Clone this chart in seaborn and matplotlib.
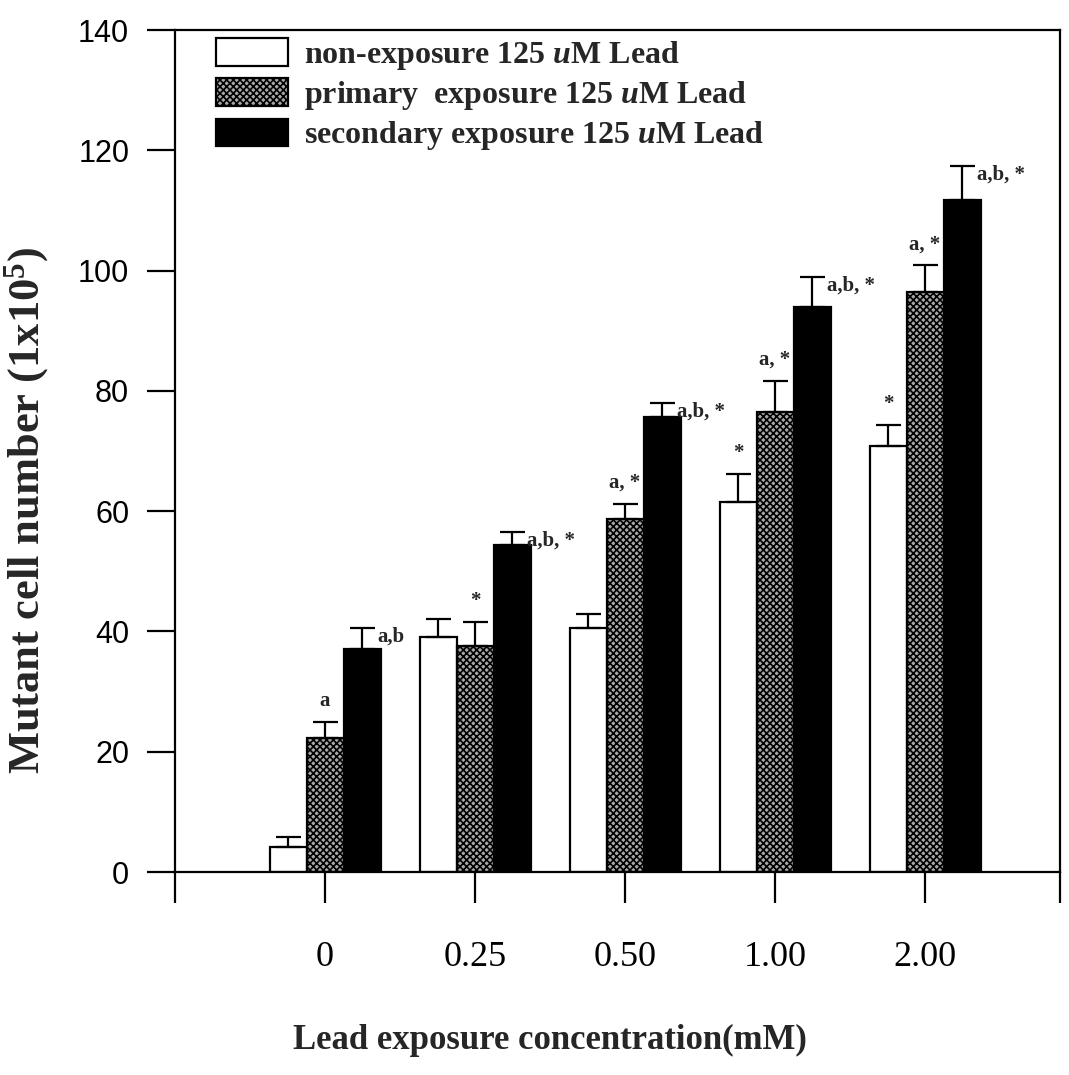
import numpy as np
import pandas as pd
import matplotlib
matplotlib.use("Agg")
import matplotlib.pyplot as plt
import seaborn as sns

# Lead exposure concentrations (mM) on the x axis
concentrations = ["0", "0.25", "0.50", "1.00", "2.00"]

# Series names
groups = [
    "non-exposure 125 $u$M Lead",
    "primary  exposure 125 $u$M Lead",
    "secondary exposure 125 $u$M Lead",
]

# Mean mutant cell number (x10^5) per series
non_exposure = [4.2, 39.0, 40.5, 61.6, 70.8]
primary = [22.2, 37.5, 58.7, 76.5, 96.4]
secondary = [37.0, 54.3, 75.6, 93.9, 111.8]

# Upper error (SD) per series
non_exposure_err = [1.7, 3.0, 2.4, 4.6, 3.6]
primary_err = [2.7, 4.1, 2.5, 5.2, 4.5]
secondary_err = [3.5, 2.2, 2.3, 5.0, 5.6]

# Significance marks per series
non_exposure_marks = ["", "", "", "*", "*"]
primary_marks = ["a", "*", "a, *", "a, *", "a, *"]
secondary_marks = ["a,b", "a,b, *", "a,b, *", "a,b, *", "a,b, *"]

y_ticks = [0, 20, 40, 60, 80, 100, 120, 140]

values = [non_exposure, primary, secondary]
errors = [non_exposure_err, primary_err, secondary_err]
marks = [non_exposure_marks, primary_marks, secondary_marks]

df = pd.DataFrame({
    "conc": concentrations * 3,
    "group": [g for g in groups for _ in concentrations],
    "value": non_exposure + primary + secondary,
})

sns.set_theme(style="ticks")
plt.rcParams.update({
    "font.family": ["Liberation Serif", "DejaVu Serif"],
    "mathtext.fontset": "custom",
    "mathtext.rm": "Liberation Serif:bold",
    "mathtext.it": "Liberation Serif:italic:bold",
    "mathtext.bf": "Liberation Serif:bold",
    "hatch.linewidth": 1.2,
    "axes.linewidth": 1.6,
})

fig = plt.figure(figsize=(10.69, 10.75), dpi=100)
ax = fig.add_axes([175 / 1069, 1 - 872 / 1075, 885 / 1069, 842 / 1075])

sns.barplot(
    data=df, x="conc", y="value", hue="group",
    order=concentrations, hue_order=groups,
    palette=["white", "#a8a8a8", "black"], saturation=1,
    edgecolor="black", linewidth=1.6, width=0.74,
    errorbar=None, legend=False, ax=ax,
)
bar_sets = list(ax.containers)

# Dotted cross-hatch on the primary-exposure bars
for patch in bar_sets[1].patches:
    patch.set_hatch("xxxxx")

line_w = 1.6
mark_font = dict(family="Liberation Serif", weight="bold", size=15)

for idx, (container, vals, errs, labels) in enumerate(zip(bar_sets, values, errors, marks)):
    xs = [p.get_x() + p.get_width() / 2 for p in container.patches]
    ax.errorbar(
        xs, vals, yerr=[np.zeros(len(vals)), errs], fmt="none",
        ecolor="black", elinewidth=line_w, capsize=9, capthick=line_w, zorder=3,
    )
    for x, v, e, lab in zip(xs, vals, errs, labels):
        if not lab:
            continue
        if idx == 2:
            ax.annotate(lab, xy=(x, v + e), xytext=(11, -6), textcoords="offset points",
                        ha="left", va="center", **mark_font)
        else:
            ax.annotate(lab, xy=(x, v + e), xytext=(0, 15), textcoords="offset points",
                        ha="center", va="center", **mark_font)

# Axes frame and ticks
for side in ["left", "right", "top", "bottom"]:
    ax.spines[side].set_visible(True)
    ax.spines[side].set_linewidth(line_w)
    ax.spines[side].set_color("black")

ax.set_ylim(0, 140)
ax.set_yticks(y_ticks)
ax.set_yticklabels([str(t) for t in y_ticks], family="Liberation Sans", size=22)
ax.tick_params(axis="y", direction="out", length=20, width=line_w, pad=13, colors="black")

ax.set_xlim(-1, 4.9)
ax.set_xticks([-1, 0, 1, 2, 3, 4, 4.9])
ax.set_xticklabels([""] + concentrations + [""], family="Liberation Serif", size=26)
ax.tick_params(axis="x", direction="out", length=22, width=line_w, pad=28, colors="black")

ax.set_xlabel("Lead exposure concentration(mM)", family="Liberation Serif",
              weight="bold", size=25)
ax.xaxis.set_label_coords(0.424, -0.18)
ax.set_ylabel("Mutant cell number (1x10$^5$)", family="Liberation Serif",
              weight="bold", size=32)
ax.yaxis.set_label_coords(-0.14, 0.43)

handles = [c.patches[0] for c in bar_sets]
ax.legend(
    handles, groups, loc="upper left", bbox_to_anchor=(0.046, 0.99),
    frameon=False, borderpad=0, borderaxespad=0,
    handlelength=2.25, handleheight=0.94, handletextpad=0.5, labelspacing=0.2,
    prop=dict(family="Liberation Serif", weight="bold", size=23),
)

fig.savefig("out.png", dpi=100, facecolor="white")
